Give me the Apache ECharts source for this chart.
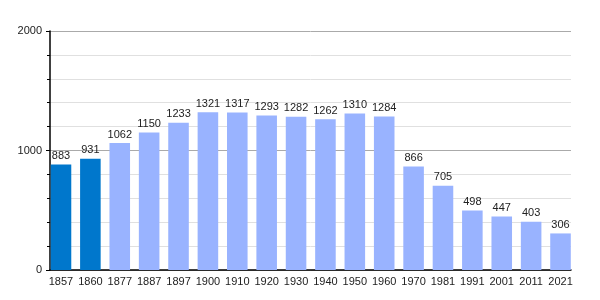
<!DOCTYPE html>
<html><head><meta charset="utf-8">
<script src="https://cdn.jsdelivr.net/npm/echarts@6/dist/echarts.min.js"></script>
<style>html,body{margin:0;padding:0;background:#fff}#c{width:600px;height:300px}</style>
</head><body><div id="c"></div>
<script>
const years = ['1857','1860','1877','1887','1897','1900','1910','1920','1930','1940','1950','1960','1970','1981','1991','2001','2011','2021'];
const population = [883,931,1062,1150,1233,1321,1317,1293,1282,1262,1310,1284,866,705,498,447,403,306];
const highlighted = ['1857','1860'];
const yTicks = [0,1000,2000];

const font = 'Liberation Sans, Arial, sans-serif';
const chart = echarts.init(document.getElementById('c'), null, {renderer:'canvas'});
chart.setOption({
  animation:false,
  grid:[
    {left:50,right:29,top:31,bottom:30,containLabel:false},
    {left:46.3,right:24.8,top:31,bottom:30,containLabel:false}
  ],
  xAxis:[
    {type:'category',gridIndex:0,data:years,
      axisLine:{lineStyle:{color:'#000',width:1.5}},
      axisTick:{show:false},axisLabel:{show:false}},
    {type:'category',gridIndex:1,data:years,
      axisLine:{show:false},axisTick:{show:false},
      axisLabel:{color:'#222',fontFamily:font,fontSize:11,margin:6,interval:0}}
  ],
  yAxis:[
    {type:'value',gridIndex:0,min:yTicks[0],max:yTicks[yTicks.length-1],interval:1000,
      axisLine:{show:true,lineStyle:{color:'#000',width:1.5}},
      axisTick:{show:true,length:4,lineStyle:{color:'#000'}},
      minorTick:{show:true,splitNumber:5,length:3,lineStyle:{color:'#000'}},
      splitLine:{lineStyle:{color:'#aaa',width:1}},
      minorSplitLine:{show:true,lineStyle:{color:'#e0e0e0',width:1}},
      axisLabel:{color:'#222',fontFamily:font,fontSize:11,margin:8,formatter:v=>String(v)}},
    {type:'value',gridIndex:1,min:yTicks[0],max:yTicks[yTicks.length-1],interval:1000,show:false,
      splitLine:{show:false}}
  ],
  series:[{type:'bar',xAxisIndex:1,yAxisIndex:1,barCategoryGap:'30%',z:3,
    data:years.map((y,i)=>({value:population[i],itemStyle:{color:highlighted.includes(y)?'#0077CC':'#99B3FF'}})),
    label:{show:true,position:'top',distance:3,color:'#222',fontFamily:font,fontSize:11}
  }]
});
</script></body></html>
